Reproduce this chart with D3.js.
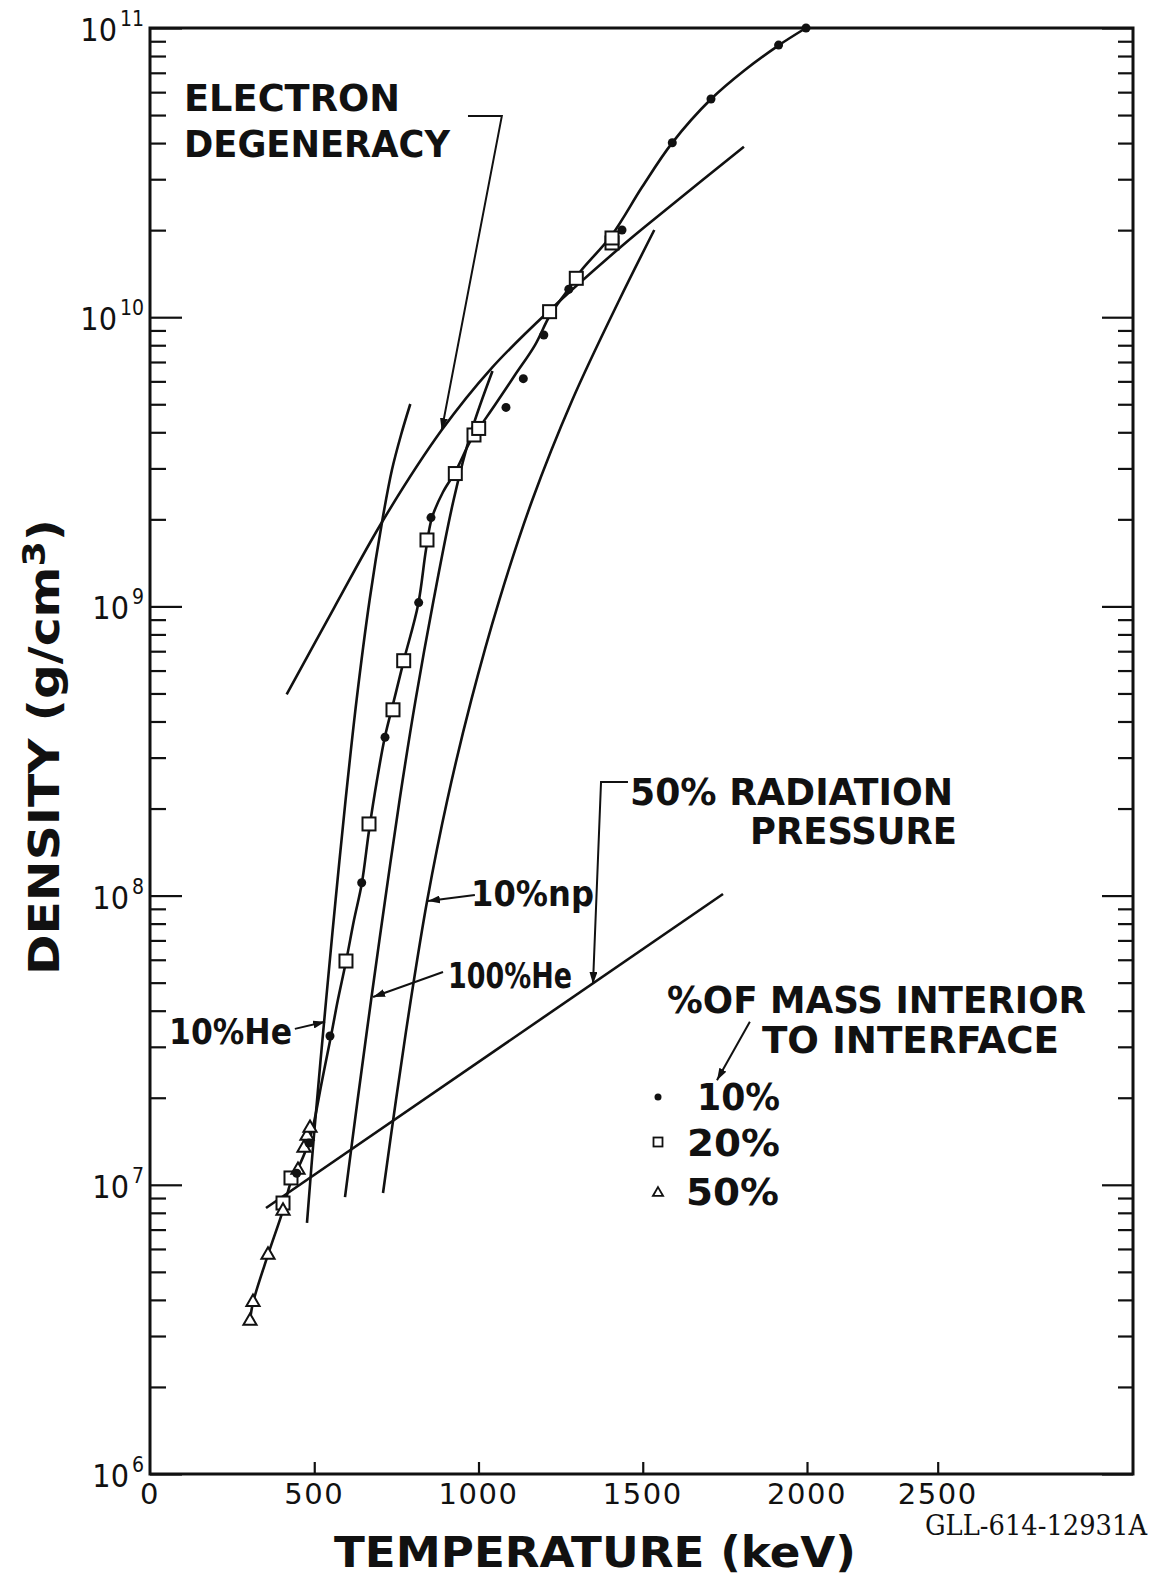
<!DOCTYPE html>
<html>
<head>
<meta charset="utf-8">
<script src="https://cdn.jsdelivr.net/npm/d3@7"></script>
<style>
  html, body { margin: 0; padding: 0; background: #fff; }
  svg { display: block; }
  .lab { font-family: "DejaVu Sans", sans-serif; font-weight: bold; fill: #111; }
  .num { font-family: "DejaVu Sans", sans-serif; fill: #111; }
  .narrow { font-family: "Liberation Sans Narrow", "DejaVu Sans Condensed", sans-serif; fill: #111; }
  .code { font-family: "DejaVu Serif", serif; fill: #111; }
</style>
</head>
<body>
<div id="chart"></div>
<script>
// [temperature keV, density g/cm3]
var mass10 = [
  [446.6, 1.096e7], [484.0, 1.395e7], [547.9, 3.27e7], [644.4, 1.108e8],
  [715.4, 3.527e8], [817.9, 1.031e9], [855.4, 2.028e9], [1083.7, 4.877e9],
  [1136.4, 6.13e9], [1198.8, 8.68e9], [1274.9, 1.249e10], [1436.8, 2.002e10],
  [1589.9, 4.012e10], [1707.7, 5.68e10], [1913.5, 8.73e10], [1997, 1.0e11]
];
var mass20 = [
  [404.9, 8.65e6], [429.2, 1.056e7], [596.6, 5.94e7], [666.7, 1.769e8],
  [739.7, 4.39e8], [772.3, 6.49e8], [843.2, 1.697e9], [929.4, 2.88e9],
  [986.3, 3.915e9], [1000.6, 4.124e9], [1216.4, 1.045e10], [1297.7, 1.363e10],
  [1406.4, 1.806e10], [1406.4, 1.879e10]
];
var mass50 = [
  [304.4, 3.38e6], [313.5, 3.93e6], [359.2, 5.72e6], [404.9, 8.12e6],
  [450.5, 1.125e7], [468.8, 1.341e7], [477.9, 1.475e7], [487.1, 1.572e7]
];
// curve drawn through the interface points
var interfaceFit = [
  [304, 3.38e6], [314, 3.93e6], [359, 5.72e6], [405, 8.18e6], [429, 1.023e7],
  [451, 1.143e7], [478, 1.351e7], [496, 1.585e7], [524, 2.30e7], [551, 3.27e7],
  [572, 4.36e7], [597, 5.94e7], [621, 8.23e7], [645, 1.106e8], [667, 1.686e8],
  [691, 2.51e8], [715, 3.535e8], [743, 4.75e8], [773, 6.53e8], [816, 1.011e9],
  [840, 1.567e9], [858, 2.021e9], [892, 2.486e9], [929, 2.915e9], [974, 3.703e9],
  [1002, 4.14e9], [1050, 4.97e9], [1111, 6.31e9], [1172, 8.01e9], [1218, 1.018e10],
  [1272, 1.242e10], [1309, 1.433e10], [1406, 1.924e10], [1498, 2.819e10],
  [1589, 4.0e10], [1708, 5.68e10], [1811, 7.16e10], [1915, 8.73e10], [1997, 1.0e11]
];
var degeneracy = [
  [416, 4.96e8], [560, 9.87e8], [710, 1.99e9], [888, 4.07e9], [1040, 6.67e9],
  [1208, 1.034e10], [1440, 1.777e10], [1577, 2.386e10], [1808, 3.887e10]
];
var he10 = [
  [477.9, 7.38e6], [500.5, 1.547e7], [536.1, 4.355e7], [565.0, 9.66e7],
  [595.4, 2.141e8], [628.9, 4.75e8], [668.5, 1.052e9], [707.4, 1.99e9],
  [736.4, 2.962e9], [764.1, 3.915e9], [792.4, 5.01e9]
];
var he100 = [
  [593.6, 9.07e6], [632.0, 1.965e7], [673.1, 4.355e7], [715.7, 9.66e7],
  [759.8, 2.141e8], [808.5, 4.75e8], [863.3, 1.052e9], [924.2, 2.333e9],
  [979.6, 4.074e9], [1042.6, 6.52e9]
];
var np10 = [
  [709.3, 9.37e6], [748.8, 1.965e7], [793.9, 4.355e7], [844.1, 9.66e7],
  [905.0, 2.141e8], [978.1, 4.75e8], [1063.3, 1.052e9], [1163.8, 2.333e9],
  [1285.5, 5.173e9], [1428.6, 1.147e10], [1535.1, 2.002e10]
];
var radiation50 = [[353.1, 8.31e6], [1744.3, 1.013e8]];

var xTicks = [500, 1000, 1500, 2000, 2500];
var xLabels = [0, 500, 1000, 1500, 2000, 2500];
var yDecades = [6, 7, 8, 9, 10, 11];

// leader lines, points in data units, arrow at the last point
var leaders = [
  [[968, 4.96e10], [1071, 4.96e10], [888, 4.07e9]],
  [[1455, 2.47e8], [1373, 2.47e8], [1348.5, 4.95e7]],
  [[989, 1.005e8], [846, 9.58e7]],
  [[892, 5.44e7], [679, 4.46e7]],
  [[441, 3.46e7], [533, 3.66e7]],
  [[1826, 3.66e7], [1726, 2.30e7]]
];

var W = 1158, H = 1579;
var padL = 150, padR = 1133, padT = 28, padB = 1474;

var svg = d3.select("#chart").append("svg")
  .attr("width", W)
  .attr("height", H);

var x = d3.scaleLinear()
  .domain([0, 2000, 2500])
  .range([padL, 807, 937.7]);

var y = d3.scaleLog()
  .domain([1e6, 1e11])
  .range([padB, padT]);

var defs = svg.append("defs");
defs.append("marker")
  .attr("id", "arrow")
  .attr("viewBox", "0 0 12 8")
  .attr("refX", 12).attr("refY", 4)
  .attr("markerWidth", 12).attr("markerHeight", 8)
  .attr("markerUnits", "userSpaceOnUse")
  .attr("orient", "auto")
  .append("path")
    .attr("d", "M0,0 L12,4 L0,8 Z")
    .attr("fill", "#111");

// minor and major ticks on the density axis
var yAll = [];
yDecades.forEach(function(e){
  yAll.push(Math.pow(10, e));
  if (e < 11) d3.range(2, 10).forEach(function(m){ yAll.push(m * Math.pow(10, e)); });
});
function isMajor(v){ return Math.abs(Math.log10(v) - Math.round(Math.log10(v))) < 1e-9; }

var yl = svg.append("g")
  .attr("transform", "translate(" + padL + ",0)")
  .call(d3.axisRight(y).tickValues(yAll).tickSize(16).tickSizeOuter(0).tickFormat(""));
yl.selectAll(".tick line").attr("x2", function(d){ return isMajor(d) ? 32 : 16; });

var yr = svg.append("g")
  .attr("transform", "translate(" + padR + ",0)")
  .call(d3.axisLeft(y).tickValues(yAll).tickSize(16).tickSizeOuter(0).tickFormat(""));
yr.selectAll(".tick line").attr("x2", function(d){ return isMajor(d) ? -31 : -15; });

var xb = svg.append("g")
  .attr("transform", "translate(0," + padB + ")")
  .call(d3.axisTop(x).tickValues(xTicks).tickSize(12).tickSizeOuter(0).tickFormat(""));

svg.selectAll(".domain").remove();
svg.selectAll(".tick line").attr("stroke", "#111").attr("stroke-width", 2.2);

// frame
svg.append("rect")
  .attr("x", padL).attr("y", padT)
  .attr("width", padR - padL).attr("height", padB - padT)
  .attr("fill", "none").attr("stroke", "#111").attr("stroke-width", 3);

// tick labels
svg.append("g").selectAll("text")
  .data(xLabels)
  .enter().append("text")
    .attr("class", "num")
    .attr("x", function(d){ return x(d); })
    .attr("y", padB + 30)
    .attr("text-anchor", "middle")
    .attr("font-size", 29)
    .attr("letter-spacing", 1.5)
    .text(function(d){ return d; });

var ylab = svg.append("g").selectAll("text")
  .data(yDecades)
  .enter().append("text")
    .attr("class", "narrow")
    .attr("x", 144)
    .attr("y", function(d){ return y(Math.pow(10, d)) + 13; })
    .attr("text-anchor", "end")
    .attr("font-size", 32);
ylab.append("tspan").text("10");
ylab.append("tspan")
  .attr("dx", 3).attr("dy", -15)
  .attr("font-size", 21)
  .text(function(d){ return d; });

// curves
var line = d3.line()
  .x(function(d){ return x(d[0]); })
  .y(function(d){ return y(d[1]); })
  .curve(d3.curveCatmullRom.alpha(0.5));

[degeneracy, he10, he100, np10, radiation50, interfaceFit].forEach(function(s){
  svg.append("path")
    .datum(s)
    .attr("d", line)
    .attr("fill", "none")
    .attr("stroke", "#111")
    .attr("stroke-width", 2.6);
});

// leader lines
svg.append("g").selectAll("path")
  .data(leaders)
  .enter().append("path")
    .attr("d", d3.line().x(function(d){ return x(d[0]); }).y(function(d){ return y(d[1]); }))
    .attr("fill", "none")
    .attr("stroke", "#111")
    .attr("stroke-width", 2)
    .attr("marker-end", "url(#arrow)");

// markers
svg.append("g").selectAll("rect")
  .data(mass20)
  .enter().append("rect")
    .attr("x", function(d){ return x(d[0]) - 6.5; })
    .attr("y", function(d){ return y(d[1]) - 6.5; })
    .attr("width", 13).attr("height", 13)
    .attr("fill", "#fff").attr("stroke", "#111").attr("stroke-width", 2);

var tri = d3.symbol().type(d3.symbolTriangle).size(75);
svg.append("g").selectAll("path")
  .data(mass50)
  .enter().append("path")
    .attr("d", tri)
    .attr("transform", function(d){ return "translate(" + x(d[0]) + "," + y(d[1]) + ")"; })
    .attr("fill", "#fff").attr("stroke", "#111").attr("stroke-width", 2);

svg.append("g").selectAll("circle")
  .data(mass10)
  .enter().append("circle")
    .attr("cx", function(d){ return x(d[0]); })
    .attr("cy", function(d){ return y(d[1]); })
    .attr("r", 4.5)
    .attr("fill", "#111");

// legend
var lg = svg.append("g");
lg.append("circle").attr("cx", 658).attr("cy", 1097).attr("r", 3.5).attr("fill", "#111");
lg.append("rect").attr("x", 653.5).attr("y", 1137.5).attr("width", 9).attr("height", 9)
  .attr("fill", "#fff").attr("stroke", "#111").attr("stroke-width", 1.8);
lg.append("path").attr("d", d3.symbol().type(d3.symbolTriangle).size(45))
  .attr("transform", "translate(658,1193)")
  .attr("fill", "#fff").attr("stroke", "#111").attr("stroke-width", 1.8);

// text annotations
var notes = [
  {t: "ELECTRON", x: 184, y: 111, len: 216, fs: 37},
  {t: "DEGENERACY", x: 184, y: 157, len: 266, fs: 37},
  {t: "50% RADIATION", x: 630, y: 805, len: 323, fs: 37},
  {t: "PRESSURE", x: 750, y: 844, len: 207, fs: 37},
  {t: "%OF MASS INTERIOR", x: 667, y: 1013, len: 419, fs: 37},
  {t: "TO INTERFACE", x: 762, y: 1053, len: 297, fs: 37},
  {t: "10%", x: 697, y: 1110, len: 83, fs: 37},
  {t: "20%", x: 687, y: 1156, len: 93, fs: 37},
  {t: "50%", x: 686, y: 1205, len: 93, fs: 37},
  {t: "10%np", x: 471, y: 906, len: 123, fs: 36},
  {t: "100%He", x: 448, y: 988, len: 124, fs: 36},
  {t: "10%He", x: 169, y: 1044, len: 123, fs: 36}
];
svg.append("g").selectAll("text")
  .data(notes)
  .enter().append("text")
    .attr("class", "lab")
    .attr("x", function(d){ return d.x; })
    .attr("y", function(d){ return d.y; })
    .attr("font-size", function(d){ return d.fs; })
    .attr("textLength", function(d){ return d.len; })
    .attr("lengthAdjust", "spacingAndGlyphs")
    .text(function(d){ return d.t; });

// axis titles
svg.append("text")
  .attr("class", "lab")
  .attr("x", 334).attr("y", 1567)
  .attr("font-size", 43)
  .attr("textLength", 522)
  .attr("lengthAdjust", "spacingAndGlyphs")
  .text("TEMPERATURE (keV)");

var yt = svg.append("text")
  .attr("class", "lab")
  .attr("transform", "translate(59,975) rotate(-90)")
  .attr("x", 0).attr("y", 0)
  .attr("font-size", 43)
  .attr("textLength", 456)
  .attr("lengthAdjust", "spacingAndGlyphs");
yt.append("tspan").text("DENSITY (g/cm");
yt.append("tspan").attr("dy", -14).attr("font-size", 32).text("3");
yt.append("tspan").attr("dy", 14).text(")");

svg.append("text")
  .attr("class", "code")
  .attr("x", 925).attr("y", 1535)
  .attr("font-size", 27)
  .attr("textLength", 222)
  .attr("lengthAdjust", "spacingAndGlyphs")
  .text("GLL-614-12931A");
</script>
</body>
</html>
